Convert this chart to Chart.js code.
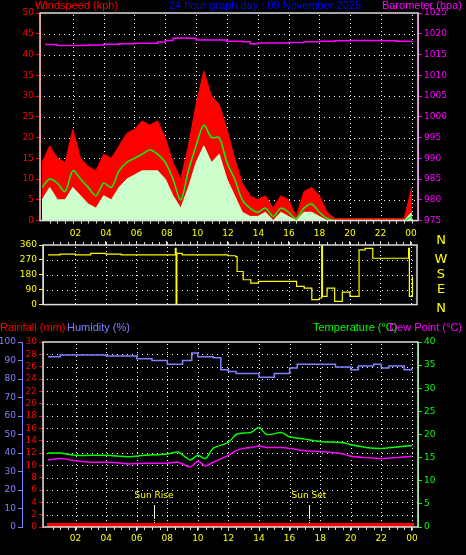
<!DOCTYPE html>
<html><head><meta charset="utf-8">
<script src="https://cdn.jsdelivr.net/npm/chart.js@4.4.1/dist/chart.umd.min.js"></script>
<style>
html,body{margin:0;padding:0;background:#000;width:466px;height:555px;overflow:hidden}
.c{position:absolute;left:0;width:466px}
</style></head><body>
<div class="c" style="top:0;height:228px"><canvas id="c1"></canvas></div>
<div class="c" style="top:228px;height:84px"><canvas id="c2"></canvas></div>
<div class="c" style="top:312px;height:243px"><canvas id="c3"></canvas></div>
<script>
const hours = [0,0.5,1,1.5,2,2.5,3,3.5,4,4.5,5,5.5,6,6.5,7,7.5,8,8.5,9,9.5,10,10.5,11,11.5,12,12.5,13,13.5,14,14.5,15,15.5,16,16.5,17,17.5,18,18.5,19,19.5,20,20.5,21,21.5,22,22.5,23,23.5,24];
const windGust = [14,18,15,14,22,15,13,12,16,15,18,21,22,24,23,24,20,14,10,18,28,36,30,28,22,15,9,6,5,6,3,6,5,1,7,8,6,2,0.5,0.5,0.5,0.5,0.5,0.5,0.5,0.5,0.5,0.5,8];
const windAvg = [8,10,9,7,12,10,8,6,9,8,12,14,15,16,17,16,14,10,5,12,18,23,20,20,14,10,5,3,2,3,1,3,2,0.5,3,4,2,0.5,0,0,0,0,0,0,0,0,0,0,1];
const windSpeed = [5,8,5,5,8,6,4,3,6,5,8,10,11,12,12,12,10,6,3,8,14,18,14,16,10,6,2,1,1,2,0,2,1,0,2,2,1,0,0,0,0,0,0,0,0,0,0,0,2];
const baroHours = [0.2,1,2,3,4,5,6,7,7.5,8,8.5,9,9.5,10,11,12,13,13.5,14,15,16,17,18,19,20,21,22,23,24];
const baro = [1017.4,1017.2,1017.2,1017.3,1017.5,1017.6,1017.7,1017.7,1018.0,1018.4,1018.9,1019.0,1018.9,1018.5,1018.5,1018.2,1018.1,1017.6,1017.8,1017.8,1017.9,1018.1,1018.2,1018.3,1018.4,1018.4,1018.3,1018.2,1017.9];
const dirHours = [0.2,1,2,3,4,5,6,7,8,8.55,8.6,8.65,9,10,11,12,12.5,12.6,13,13.5,14,16,16.5,17,17.5,18,18.15,18.2,18.3,18.5,19,19.5,20,20.5,20.6,21,21.5,23.8,23.85,23.9,24.1];
const dirVals = [300,305,300,310,305,300,300,300,300,340,5,310,300,300,300,295,290,200,150,130,140,140,110,100,30,40,360,50,50,100,20,75,50,50,330,340,280,280,340,50,170];
const humHours = [0.2,1,2,3,4,6,7,8,9,9.6,10,11,11.5,12,12.5,14,15,15.5,16,16.5,18,19,20,20.5,21.5,22,22.5,23,23.5,24];
const humidity = [92,93,93,93,92.5,91,90,88,90,94,92,91.5,85,84,83,81,83,83,86,88,88,86.5,85,87,88,86,87,87,85,86];
const tdHours = [0.2,1,2,3,4,5,5.5,6.5,8,8.7,9.5,10,10.5,11,12,12.5,13,13.5,14,14.5,15.5,16,17,18,19.5,20,21,22,23,24];
const temperature = [16,16,15.5,15.5,15.5,15.3,15.2,15.5,15.8,16.2,14.5,15.5,14.8,17,18.3,20,20.3,20.5,21.5,20,20.4,19.5,19,18.5,18.2,17.8,17.2,17,17.3,17.6];
const dewPoint = [14.5,14.8,14.3,14,14,13.8,13.6,13.8,13.8,14,13,14.2,13.2,14,15.5,16.5,17,17.2,17.5,17.2,17.2,17,16.5,16.3,15.8,15.3,15,14.8,15,15.3];
const rainHours = [0.2,24];
const rainfall = [0,0];
const hourLabels = {2:'02',4:'04',6:'06',8:'08',10:'10',12:'12',14:'14',16:'16',18:'18',20:'20',22:'22',24:'00'};
const dirLetters = ['N','W','S','E','N'];

const FONT = {family:'DejaVu Sans', size:9};
const TFONT = '11px "Liberation Sans"';
Chart.defaults.font.family = 'DejaVu Sans';
Chart.defaults.animation = false;
const XMIN=-0.13, XMAX=24.4;
const pts=(xs,ys)=>xs.map((x,i)=>({x,y:ys[i]}));

const frame = {
  id:'frame',
  beforeDatasetsDraw(c,a,o){
    const {ctx,chartArea:ca,scales}=c; const x=scales.x, y=scales[o.yid||'y'];
    ctx.save(); ctx.fillStyle='#fff';
    for(let h=2;h<=24;h+=2){const px=Math.round(x.getPixelForValue(h));for(let py=ca.top+2;py<ca.bottom;py+=4)ctx.fillRect(px,py,1,1);}
    y.ticks.forEach(t=>{const py=Math.round(y.getPixelForValue(t.value));if(py<=ca.top+1||py>=ca.bottom-1)return;for(let px=ca.left+4;px<ca.right;px+=5)ctx.fillRect(px,py,1,1);});
    ctx.restore();
  },
  afterDraw(c,a,o){
    const {ctx,chartArea:ca,scales}=c; ctx.save();
    ctx.strokeStyle='#ddd'; ctx.lineWidth=1.5; ctx.strokeRect(ca.left,ca.top,ca.right-ca.left,ca.bottom-ca.top);
    ctx.fillStyle='#ddd';
    const x=scales.x;
    for(let h=0.5;h<=24;h+=0.5){const px=Math.round(x.getPixelForValue(h)); if(o.top) ctx.fillRect(px,ca.top-3,1,3); else ctx.fillRect(px,ca.bottom,1,3);}
    if(o.rain){ctx.fillStyle='#ff0000';ctx.fillRect(ca.left+4,ca.bottom-4,ca.right-ca.left-8,3);}
    (o.texts||[]).forEach(t=>{ctx.fillStyle=t.c;ctx.font=TFONT;ctx.textAlign=t.a||'left';ctx.textBaseline='middle';ctx.fillText(t.s,t.x,t.y);});
    if(o.sun){ o.sun.forEach(s=>{const px=Math.round(x.getPixelForValue(s.h));ctx.fillStyle='#ff0';ctx.font='9px DejaVu Sans';ctx.textAlign='center';ctx.textBaseline='middle';ctx.fillText(s.s,px,ca.bottom-31);
      ctx.fillStyle='#fff';ctx.fillRect(px,ca.bottom-22,1,13);ctx.fillStyle='#ff0';for(let py=ca.bottom-9;py<ca.bottom-4;py+=2)ctx.fillRect(px,py,1,1);});}
    if(o.letters){ctx.fillStyle='#ff0';ctx.font='13px DejaVu Sans';ctx.textAlign='center';ctx.textBaseline='middle';
      o.letters.forEach((l,i)=>ctx.fillText(l,441,ca.top+i*(ca.bottom-ca.top)/4+ (i==0?-4:i==4?4:0)));}
    ctx.restore();
  }
};
function yAxis(pos,min,max,step,color,w,cb,weight){
  const t={stepSize:step,color,font:FONT,padding:2,autoSkip:false};
  if(cb) t.callback=cb;
  return {type:'linear',position:pos,min,max,ticks:t,weight:weight||0,
    grid:{drawOnChartArea:false,color,tickLength:4,tickWidth:1},
    border:{display:true,color,width:1},
    afterFit:s=>{s.width=w;}};
}
function xAxis(pos,show,h){
  return {type:'linear',position:pos,min:XMIN,max:XMAX,
    ticks:{display:show,autoSkip:false,color:'#ff0',font:FONT,padding:2,callback:v=>hourLabels[v]||''},
    afterBuildTicks:s=>{s.ticks=[2,4,6,8,10,12,14,16,18,20,22,24].map(v=>({value:v}));},
    grid:{drawOnChartArea:false,color:'#ddd',tickLength:show?4:0},border:{display:false},
    afterFit:s=>{s.height=h;}};
}
const common = {responsive:true,maintainAspectRatio:false,plugins:{legend:{display:false},tooltip:{enabled:false}},elements:{point:{radius:0}}};

new Chart(document.getElementById('c1'),{type:'line',
  data:{datasets:[
    {data:pts(hours,windGust),borderColor:'#ff0000',backgroundColor:'#ff0000',fill:'origin',borderWidth:1,yAxisID:'y',order:4},
    {data:pts(hours,windSpeed),borderColor:'#ccffcc',backgroundColor:'#ccffcc',fill:'origin',borderWidth:1,yAxisID:'y',order:3},
    {data:pts(hours,windAvg),borderColor:'#00ff00',fill:false,borderWidth:1.5,tension:0.3,yAxisID:'y',order:2},
    {data:pts(baroHours,baro),borderColor:'#ff00ff',fill:false,stepped:true,borderWidth:1.5,yAxisID:'y2',order:1}]},
  options:Object.assign({},common,{layout:{padding:{top:13,left:0,right:0,bottom:0}},
    scales:{x:xAxis('bottom',false,5),
      y:yAxis('left',0,50,5,'#ff0000',40),
      y2:yAxis('right',975,1025,5,'#ff00ff',48,v=>String(v))},
    plugins:Object.assign({},common.plugins,{frame:{texts:[
      {s:'Windspeed (kph)',x:35,y:6,c:'#ff0000'},
      {s:'24 hour graph day : 09 November 2025',x:265,y:6,c:'#0000ff',a:'center'},
      {s:'Barometer (hpa)',x:462,y:6,c:'#ff00ff',a:'right'}]}})}),
  plugins:[frame]});

new Chart(document.getElementById('c2'),{type:'line',
  data:{datasets:[{data:pts(dirHours,dirVals),borderColor:'#ffff00',fill:false,stepped:true,borderWidth:1.2}]},
  options:Object.assign({},common,{layout:{padding:{top:0,bottom:3}},
    scales:{x:xAxis('top',true,17),
      y:yAxis('left',0,360,90,'#ffff00',43),
      yr:{position:'right',display:true,ticks:{display:false},grid:{display:false},border:{display:false},afterFit:s=>{s.width=49;}}},
    plugins:Object.assign({},common.plugins,{frame:{top:true,letters:dirLetters}})}),
  plugins:[frame]});

new Chart(document.getElementById('c3'),{type:'line',
  data:{datasets:[
    {data:pts(humHours,humidity),borderColor:'#8080ff',fill:false,stepped:true,borderWidth:1.5,yAxisID:'yh'},
    {data:pts(tdHours,temperature),borderColor:'#00ff00',fill:false,borderWidth:1.5,tension:0.3,yAxisID:'yt'},
    {data:pts(tdHours,dewPoint),borderColor:'#ff00ff',fill:false,borderWidth:1.5,tension:0.3,yAxisID:'yt'},
    {data:pts(rainHours,rainfall),borderColor:'#ff0000',fill:false,borderWidth:3,yAxisID:'y'}]},
  options:Object.assign({},common,{layout:{padding:{top:30}},
    scales:{x:xAxis('bottom',true,28),
      yh:yAxis('left',0,100,10,'#8080ff',22,null,5),
      y:yAxis('left',0,30,2,'#ff0000',21,null,1),
      yt:yAxis('right',0,40,5,'#00ff00',48)},
    plugins:Object.assign({},common.plugins,{frame:{yid:'y',rain:true,sun:[{h:7.1,s:'Sun Rise'},{h:17.3,s:'Sun Set'}],texts:[
      {s:'Rainfall (mm)',x:0,y:16,c:'#ff0000'},
      {s:'Humidity (%)',x:67,y:16,c:'#8080ff'},
      {s:'Temperature (°C)',x:313,y:16,c:'#00ff00'},
      {s:'Dew Point (°C)',x:462,y:16,c:'#ff00ff',a:'right'}]}})}),
  plugins:[frame]});
</script></body></html>
